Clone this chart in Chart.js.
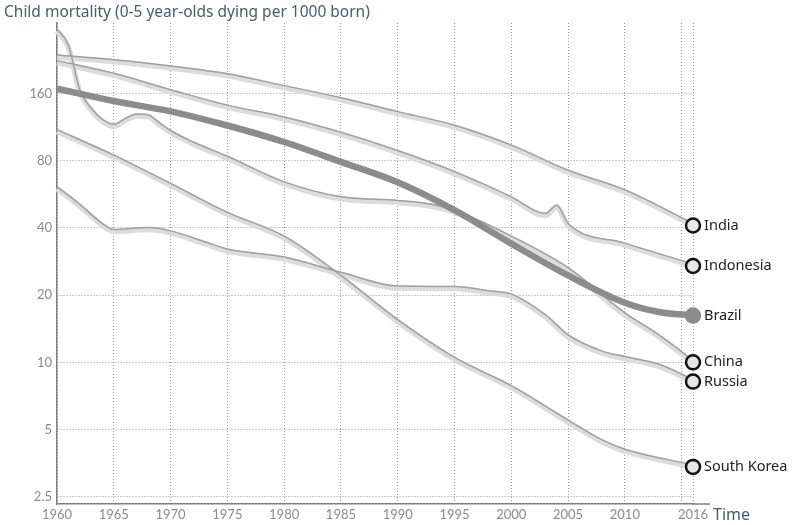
<!DOCTYPE html>
<html>
<head>
<meta charset="utf-8">
<script src="https://cdn.jsdelivr.net/npm/chart.js@4"></script>
<style>
  html, body { margin: 0; padding: 0; background: #fff; }
  canvas { display: block; }
</style>
</head>
<body>
<canvas id="chart" width="795" height="525"></canvas>
<script>
// values (deaths per 1000 born)
const xTicks = [1960, 1965, 1970, 1975, 1980, 1985, 1990, 1995, 2000, 2005, 2010, 2015, 2016];
const yTicks = [2.5, 5, 10, 20, 40, 80, 160];

const indiaYears = [1960, 1965, 1970, 1975, 1980, 1985, 1990, 1995, 2000, 2005, 2010, 2016];
const indiaVals  = [233, 222, 208, 192, 170, 150, 130, 113, 92, 71, 58, 41];

const indonesiaYears = [1960, 1965, 1970, 1975, 1980, 1985, 1990, 1995, 2000, 2003, 2004, 2005, 2010, 2016];
const indonesiaVals  = [220, 193, 163, 139, 123, 105, 87, 70, 54, 45.5, 49.5, 41, 33.5, 27];

const brazilYears = [1960, 1965, 1970, 1975, 1980, 1985, 1990, 1995, 2000, 2005, 2010, 2013, 2016];
const brazilVals  = [168, 148, 133, 115, 97, 79, 64, 48, 34, 24.5, 18.5, 16.8, 16.2];

const chinaYears = [1960, 1961, 1962, 1963, 1964, 1965, 1966, 1967, 1968, 1969, 1970, 1972, 1975, 1980, 1985, 1990, 1993, 1995, 2000, 2005, 2010, 2013, 2016];
const chinaVals  = [305, 258, 163, 135, 120, 114, 121, 127, 126, 116, 107, 95, 82, 63, 54, 52, 50, 47, 36, 26, 16.3, 13, 10];

const russiaYears = [1960, 1962, 1964, 1965, 1968, 1970, 1973, 1975, 1980, 1985, 1990, 1995, 1998, 2000, 2003, 2005, 2008, 2010, 2013, 2016];
const russiaVals  = [60, 50, 41, 38.5, 39.3, 38, 34, 31.5, 29, 24.8, 21.5, 21.4, 20.5, 19.8, 16, 13, 11, 10.4, 9.6, 8.2];

const koreaYears = [1960, 1965, 1970, 1975, 1980, 1985, 1990, 1995, 2000, 2005, 2008, 2010, 2016];
const koreaVals  = [108, 83, 62, 46, 36, 24, 15.2, 10.3, 7.7, 5.4, 4.4, 4.0, 3.4];

const countries = [
    { name: 'India', years: indiaYears, vals: indiaVals },
    { name: 'Indonesia', years: indonesiaYears, vals: indonesiaVals },
    { name: 'Brazil', years: brazilYears, vals: brazilVals, main: true },
    { name: 'China', years: chinaYears, vals: chinaVals },
    { name: 'Russia', years: russiaYears, vals: russiaVals },
    { name: 'South Korea', years: koreaYears, vals: koreaVals }
];

const toPoints = (c) => c.years.map((x, i) => ({ x: x, y: c.vals[i] }));

const datasets = [];
countries.forEach(function (c) {
    if (c.main) {
        datasets.push({
            data: toPoints(c), borderColor: '#8c8c8c', borderWidth: 6.5,
            pointRadius: 0, cubicInterpolationMode: 'monotone', clip: false, order: 2
        });
        return;
    }
    // light band with a darker hairline along its top edge
    datasets.push({
        data: toPoints(c), borderColor: '#dcdcdc', borderWidth: 5.5,
        pointRadius: 0, cubicInterpolationMode: 'monotone', clip: false, order: 4
    });
    datasets.push({
        data: toPoints(c), borderColor: '#a0a0a0', borderWidth: 1.5, shiftY: -2,
        pointRadius: 0, cubicInterpolationMode: 'monotone', clip: false, order: 3
    });
});

const endPoints = countries.map(c => ({ x: c.years[c.years.length - 1], y: c.vals[c.vals.length - 1] }));
datasets.push({
    data: endPoints,
    showLine: false,
    pointRadius: 7,
    pointBackgroundColor: countries.map(c => c.main ? '#8c8c8c' : '#e6e6e6'),
    pointBorderColor: countries.map(c => c.main ? '#8c8c8c' : '#111'),
    pointBorderWidth: 2.5,
    clip: false,
    order: 1
});

const shiftPlugin = {
    id: 'shift',
    beforeDatasetDraw(chart, args) {
        const ds = chart.data.datasets[args.index];
        if (ds.shiftY) {
            chart.ctx.save();
            chart.ctx.translate(0, ds.shiftY);
        }
    },
    afterDatasetDraw(chart, args) {
        if (chart.data.datasets[args.index].shiftY) chart.ctx.restore();
    }
};

const decorPlugin = {
    id: 'decor',
    afterDraw(chart) {
        const ctx = chart.ctx;
        const area = chart.chartArea;
        ctx.save();
        // x axis runs a bit past the last year
        ctx.strokeStyle = '#808080';
        ctx.lineWidth = 1.5;
        ctx.beginPath();
        ctx.moveTo(area.right - 1, area.bottom);
        ctx.lineTo(area.right + 17, area.bottom);
        ctx.stroke();

        ctx.fillStyle = '#44606e';
        ctx.font = '15.5px "Noto Sans"';
        ctx.textBaseline = 'alphabetic';
        ctx.textAlign = 'left';
        ctx.fillText('Child mortality (0-5 year-olds dying per 1000 born)', 4, 17);

        ctx.font = '16px "Noto Sans"';
        ctx.textBaseline = 'middle';
        ctx.fillText('Time', area.right + 20, area.bottom + 11);

        const meta = chart.getDatasetMeta(chart.data.datasets.length - 1);
        ctx.fillStyle = '#222';
        ctx.font = '14.5px "Noto Sans"';
        meta.data.forEach(function (pt, i) {
            ctx.fillText(countries[i].name, pt.x + 11, pt.y);
        });
        ctx.restore();
    }
};

new Chart(document.getElementById('chart'), {
    type: 'line',
    data: { datasets: datasets },
    plugins: [shiftPlugin, decorPlugin],
    options: {
        responsive: false,
        animation: false,
        layout: { padding: { top: 23, right: 102, left: 0, bottom: 0 } },
        plugins: { legend: { display: false }, tooltip: { enabled: false } },
        scales: {
            x: {
                type: 'linear',
                min: 1960,
                max: 2016,
                afterBuildTicks: (s) => { s.ticks = xTicks.map(v => ({ value: v })); },
                afterFit: (s) => { s.height = 21; },
                ticks: {
                    autoSkip: false, maxRotation: 0, padding: 3,
                    color: '#8a8a8a', font: { family: 'Lato', size: 13 },
                    callback: (v) => v === 2015 ? '' : String(v)
                },
                grid: { color: '#999', drawTicks: false },
                border: { display: true, color: '#808080', width: 1.5, dash: [1, 2] }
            },
            y: {
                type: 'logarithmic',
                min: 2.32,
                max: 331,
                afterBuildTicks: (s) => { s.ticks = yTicks.map(v => ({ value: v })); },
                afterFit: (s) => { s.width = 57; },
                ticks: {
                    padding: 5, color: '#8a8a8a', font: { family: 'Lato', size: 13 },
                    callback: (v) => String(v)
                },
                grid: { color: '#999', drawTicks: false },
                border: { display: true, color: '#808080', width: 1.5, dash: [1, 2] }
            }
        }
    }
});
</script>
</body>
</html>
